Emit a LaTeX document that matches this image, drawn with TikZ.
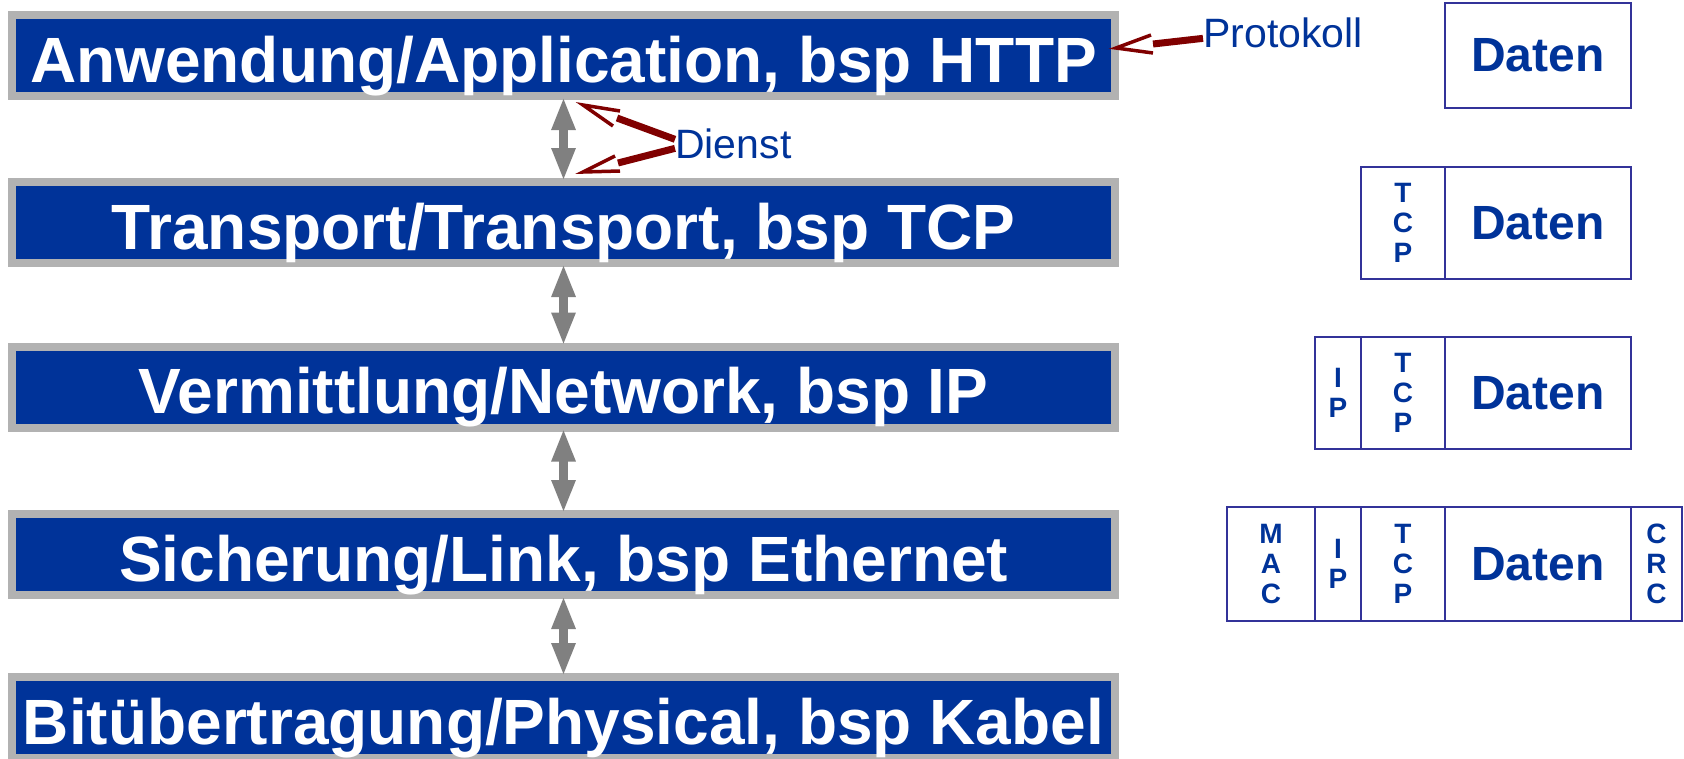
\documentclass[tikz,border=0pt]{standalone}
\usepackage{fontspec}
\setmainfont{Liberation Sans}
\usetikzlibrary{arrows.meta}
\definecolor{layerblue}{RGB}{0,51,153}
\definecolor{layergray}{RGB}{178,178,178}
\definecolor{arrgray}{RGB}{128,128,128}
\definecolor{annred}{RGB}{128,0,0}
\definecolor{fieldline}{RGB}{51,51,153}
\begin{document}
\begin{tikzpicture}[x=1pt,y=-1pt,
  layer/.style={draw=layergray, fill=layerblue, line width=8pt, minimum width=1103pt,
    minimum height=81pt, inner sep=0pt, text=white,
    font=\fontsize{64}{64}\selectfont\bfseries, text height=60pt, text depth=7pt},
  updown/.style={draw=arrgray, line width=9pt,
    {Triangle[length=33pt,width=22pt]}-{Triangle[length=33pt,width=22pt]},
    shorten <=-3pt, shorten >=-3pt},
  field/.style={draw=fieldline, line width=1.5pt, inner sep=0pt, outer sep=0pt,
    anchor=north west, text=layerblue, align=center,
    font=\fontsize{28}{30}\selectfont\bfseries},
  datenfield/.style={field, font=\fontsize{48}{48}\selectfont\bfseries},
  annlabel/.style={text=layerblue, font=\fontsize{41}{41}\selectfont, inner sep=0pt, anchor=base west},
  ann/.style={draw=annred, line width=7pt},
  annhead/.style={draw=annred, line width=3.5pt, line join=miter}
]
\useasboundingbox (0,0) rectangle (1684,758);

% layers
\node[layer] (L1) at (563.5,55.5) {Anwendung/Application, bsp HTTP};
\node[layer] (L2) at (563.5,222.5) {Transport/Transport, bsp TCP};
\node[layer] (L3) at (563.5,387) {Vermittlung/Network, bsp IP};
\node[layer] (L4) at (563.5,554.5) {Sicherung/Link, bsp Ethernet};
\node[layer] (L5) at (563.5,717.5) {Bitübertragung/Physical, bsp Kabel};

\draw[updown] (L1.south) -- (L2.north);
\draw[updown] (L2.south) -- (L3.north);
\draw[updown] (L3.south) -- (L4.north);
\draw[updown] (L4.south) -- (L5.north);

% packets
\node[datenfield, minimum width=186pt, minimum height=105pt] (D0) at (1445,3) {Daten};

\node[field, minimum width=84pt, minimum height=112pt] (T1) at (1361,167) {T\\C\\P};
\node[datenfield, minimum width=186pt, minimum height=112pt] (D1) at (1445,167) {Daten};

\node[field, minimum width=46pt, minimum height=112pt] (I2) at (1315,337) {I\\P};
\node[field, minimum width=84pt, minimum height=112pt] (T2) at (1361,337) {T\\C\\P};
\node[datenfield, minimum width=186pt, minimum height=112pt] (D2) at (1445,337) {Daten};

\node[field, minimum width=88pt, minimum height=114pt] (M3) at (1227,507) {M\\A\\C};
\node[field, minimum width=46pt, minimum height=114pt] (I3) at (1315,507) {I\\P};
\node[field, minimum width=84pt, minimum height=114pt] (T3) at (1361,507) {T\\C\\P};
\node[datenfield, minimum width=186pt, minimum height=114pt] (D3) at (1445,507) {Daten};
\node[field, minimum width=51pt, minimum height=114pt] (C3) at (1631,507) {C\\R\\C};

% annotations
\node[annlabel] (prot) at (1203,47) {Protokoll};
\coordinate (protA) at (1153,44);
\coordinate (protTip) at (1116,48);
\coordinate (protB1) at (1151,35);
\coordinate (protB2) at (1153,53);
\draw[ann] ([yshift=-6pt]prot.west) -- (protA);
\draw[annhead] (protB1) -- (protTip) -- (protB2);

\node[annlabel] (dienst) at (675,158) {Dienst};
\coordinate (d1A) at (617,118);
\coordinate (d1Tip) at (583,105);
\coordinate (d1B1) at (620,111);
\coordinate (d1B2) at (613,126);
\coordinate (d2A) at (618,163);
\coordinate (d2Tip) at (583,172);
\coordinate (d2B1) at (615,156);
\coordinate (d2B2) at (620,171);
\draw[ann] ([yshift=4pt]dienst.west) -- (d1A);
\draw[ann] ([yshift=-5pt]dienst.west) -- (d2A);
\draw[annhead] (d1B1) -- (d1Tip) -- (d1B2);
\draw[annhead] (d2B1) -- (d2Tip) -- (d2B2);
\end{tikzpicture}
\end{document}
